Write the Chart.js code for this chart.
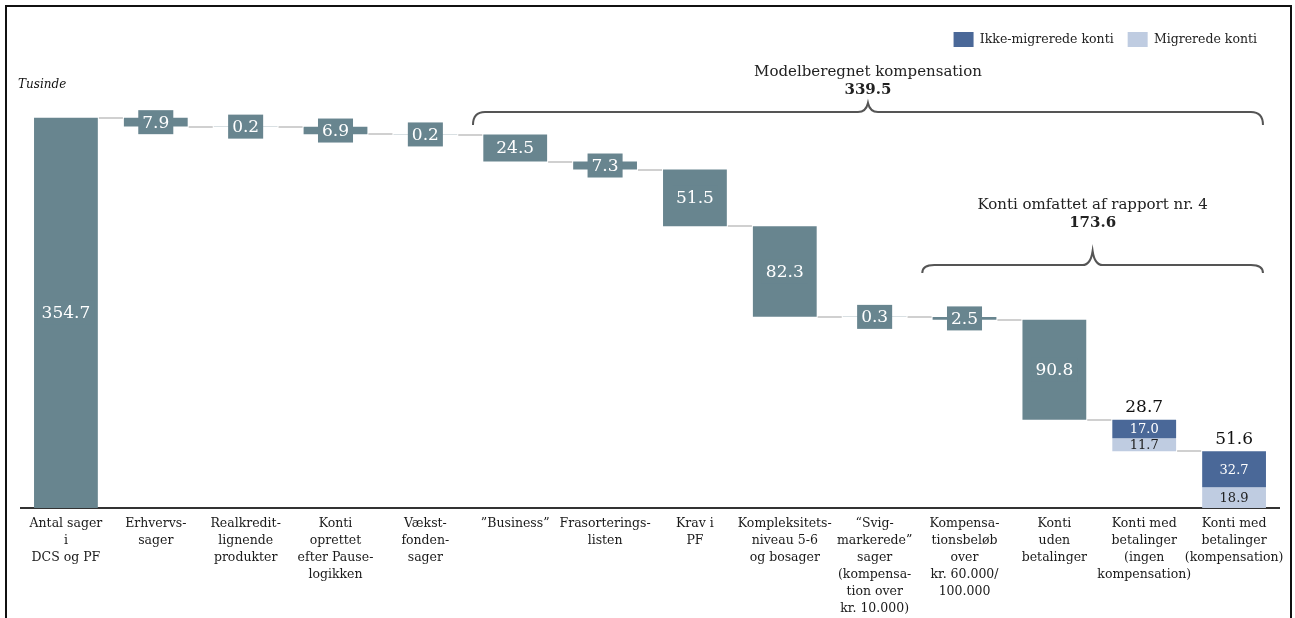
<!DOCTYPE html>
<html><head><meta charset="utf-8">
<script src="https://cdn.jsdelivr.net/npm/chart.js@4.4.1/dist/chart.umd.min.js"></script>
<style>
html,body{margin:0;padding:0;background:#fff;overflow:hidden}
#wrap{position:relative;width:1295px;height:618px}
#frame{position:absolute;left:5px;top:5px;width:1287px;height:700px;border:2px solid #111;box-sizing:border-box;pointer-events:none}
canvas{position:absolute;left:0;top:0}
</style></head><body>
<div id="wrap"><div id="frame"></div><canvas id="c" width="1295" height="618"></canvas></div>
<script>
// ---- data ----
const categories = [
  ["Antal sager","i","DCS og PF"],
  ["Erhvervs-","sager"],
  ["Realkredit-","lignende","produkter"],
  ["Konti","oprettet","efter Pause-","logikken"],
  ["Vækst-","fonden-","sager"],
  ["”Business”"],
  ["Frasorterings-","listen"],
  ["Krav i","PF"],
  ["Kompleksitets-","niveau 5-6","og bosager"],
  ["“Svig-","markerede”","sager","(kompensa-","tion over","kr. 10.000)"],
  ["Kompensa-","tionsbeløb","over","kr. 60.000/","100.000"],
  ["Konti","uden","betalinger"],
  ["Konti med","betalinger","(ingen","kompensation)"],
  ["Konti med","betalinger","(kompensation)"]
];
const startValue = 354.7;
const changes = [-7.9, -0.2, -6.9, -0.2, -24.5, -7.3, -51.5, -82.3, -0.3, -2.5, -90.8];
const ikkeMigrerede = [17.0, 32.7];
const migrerede = [11.7, 18.9];
const braceTitles = ["Modelberegnet kompensation", "Konti omfattet af rapport nr. 4"];
const braceFrom = [5, 10];
const unitLabel = "Tusinde";

// ---- build floating bars ----
const r1 = v => Math.round(v * 10) / 10;
const greyData = [[0, startValue]];
const greyLabels = [startValue];
const levels = [startValue];
let level = startValue;
changes.forEach(c => {
  const prev = level;
  level = r1(level + c);
  greyData.push([level, prev]);
  greyLabels.push(Math.abs(c));
  levels.push(level);
});
const darkData = [], lightData = [];
for (let i = 0; i < categories.length; i++) { if (i >= greyData.length) greyData.push(null); darkData.push(null); lightData.push(null); }
const i12 = changes.length + 1;
darkData[i12] = [r1(level - ikkeMigrerede[0]), level];
lightData[i12] = [r1(level - ikkeMigrerede[0] - migrerede[0]), r1(level - ikkeMigrerede[0])];
level = r1(level - ikkeMigrerede[0] - migrerede[0]);
levels.push(level);
const i13 = i12 + 1;
lightData[i13] = [0, migrerede[1]];
darkData[i13] = [migrerede[1], r1(migrerede[1] + ikkeMigrerede[1])];

const GREY = '#68858f', DARK = '#4a6898', LIGHT = '#bfcce1';
const SERIF = 'DejaVu Serif';

const wfPlugin = {
  id: 'wf',
  afterLayout(chart) {
    if (chart.legend) chart.legend.right -= 8;
  },
  beforeDatasetsDraw(chart) {
    const ctx = chart.ctx, ys = chart.scales.y, xs = chart.scales.x;
    const w = chart.getDatasetMeta(0).data[0].width;
    ctx.save();
    ctx.strokeStyle = '#d0d0d0';
    ctx.lineWidth = 2;
    for (let i = 0; i < levels.length && i + 1 < categories.length; i++) {
      const y = Math.round(ys.getPixelForValue(levels[i]));
      const xa = xs.getPixelForValue(i) + w / 2 + 1;
      const xb = xs.getPixelForValue(i + 1) - w / 2 - 1;
      ctx.beginPath(); ctx.moveTo(xa, y); ctx.lineTo(xb, y); ctx.stroke();
    }
    ctx.restore();
  },
  afterDatasetsDraw(chart) {
    const ctx = chart.ctx;
    ctx.save();
    ctx.textAlign = 'center';
    ctx.textBaseline = 'middle';
    const mg = chart.getDatasetMeta(0);
    ctx.font = '17px "' + SERIF + '"';
    greyLabels.forEach((v, i) => {
      const el = mg.data[i];
      const cy = (el.y + el.base) / 2;
      const t = v.toFixed(1);
      const tw = ctx.measureText(t).width;
      ctx.fillStyle = GREY;
      ctx.fillRect(el.x - tw / 2 - 4, cy - 12, tw + 8, 24);
      ctx.fillStyle = '#fff';
      ctx.fillText(t, el.x, cy + 1);
    });
    const md = chart.getDatasetMeta(1), ml = chart.getDatasetMeta(2);
    ctx.font = '13px "' + SERIF + '"';
    [[i12, 0], [i13, 1]].forEach(([idx, k]) => {
      const d = md.data[idx], l = ml.data[idx];
      ctx.fillStyle = '#fff';
      ctx.fillText(ikkeMigrerede[k].toFixed(1), d.x, (d.y + d.base) / 2 + 1);
      ctx.fillStyle = '#222';
      ctx.fillText(migrerede[k].toFixed(1), l.x, (l.y + l.base) / 2 + 1);
    });
    ctx.font = '17px "' + SERIF + '"';
    ctx.fillStyle = '#111';
    [[i12, 0], [i13, 1]].forEach(([idx, k]) => {
      const d = md.data[idx];
      ctx.fillText(r1(ikkeMigrerede[k] + migrerede[k]).toFixed(1), d.x, d.y - 12);
    });
    ctx.restore();
  },
  afterDraw(chart) {
    const ctx = chart.ctx, xs = chart.scales.x;
    const slot = xs.getPixelForValue(1) - xs.getPixelForValue(0);
    const w = chart.getDatasetMeta(0).data[0].width;
    ctx.save();
    ctx.fillStyle = '#111';
    ctx.font = 'italic 12px "' + SERIF + '"';
    ctx.textBaseline = 'middle';
    ctx.textAlign = 'left';
    ctx.fillText(unitLabel, 18, 85);
    const geo = [{line: 112, tip: 103, end: 125, title: 72, val: 90}, {line: 265, tip: 251, end: 273, title: 205, val: 223}];
    braceTitles.forEach((title, b) => {
      const g = geo[b];
      const x0 = xs.getPixelForValue(braceFrom[b]) - slot * 0.47;
      const x1 = xs.getPixelForValue(categories.length - 1) + w / 2 - 3;
      const tx = (x0 + x1) / 2;
      ctx.strokeStyle = '#555';
      ctx.lineWidth = 2;
      ctx.beginPath();
      ctx.moveTo(x0, g.end);
      ctx.quadraticCurveTo(x0, g.line, x0 + 12, g.line);
      ctx.lineTo(tx - 10, g.line);
      ctx.quadraticCurveTo(tx - 2, g.line, tx, g.tip);
      ctx.quadraticCurveTo(tx + 2, g.line, tx + 10, g.line);
      ctx.lineTo(x1 - 12, g.line);
      ctx.quadraticCurveTo(x1, g.line, x1, g.end);
      ctx.stroke();
      ctx.textAlign = 'center';
      ctx.fillStyle = '#222';
      ctx.font = '15px "' + SERIF + '"';
      ctx.fillText(title, tx, g.title);
      ctx.font = 'bold 15px "' + SERIF + '"';
      const v = levels[braceFrom[b] - 1];
      ctx.fillText(v.toFixed(1), tx, g.val);
    });
    ctx.restore();
  }
};

const common = {grouped: false, barPercentage: 0.71, categoryPercentage: 1, borderWidth: 0, borderSkipped: false};
new Chart(document.getElementById('c'), {
  type: 'bar',
  data: {
    labels: categories,
    datasets: [
      Object.assign({label: 'Ændring', data: greyData, backgroundColor: GREY}, common),
      Object.assign({label: 'Ikke-migrerede konti', data: darkData, backgroundColor: DARK}, common),
      Object.assign({label: 'Migrerede konti', data: lightData, backgroundColor: LIGHT}, common)
    ]
  },
  options: {
    responsive: false,
    animation: false,
    devicePixelRatio: 1,
    layout: {padding: {top: 18, left: 21, right: 16, bottom: -6}},
    plugins: {
      legend: {
        position: 'top', align: 'end',
        labels: {
          filter: it => it.datasetIndex > 0,
          boxWidth: 20, boxHeight: 15, padding: 14, color: '#222',
          font: {family: SERIF, size: 12.5}
        }
      },
      tooltip: {enabled: false}
    },
    scales: {
      x: {
        grid: {display: false, drawTicks: false},
        border: {display: true, color: '#333', width: 2},
        ticks: {color: '#1a1a1a', font: {family: SERIF, size: 12.5, lineHeight: 1.36}, padding: 7, maxRotation: 0, minRotation: 0, autoSkip: false}
      },
      y: {display: false, min: 0, max: 410}
    }
  },
  plugins: [wfPlugin]
});
</script>
</body></html>
